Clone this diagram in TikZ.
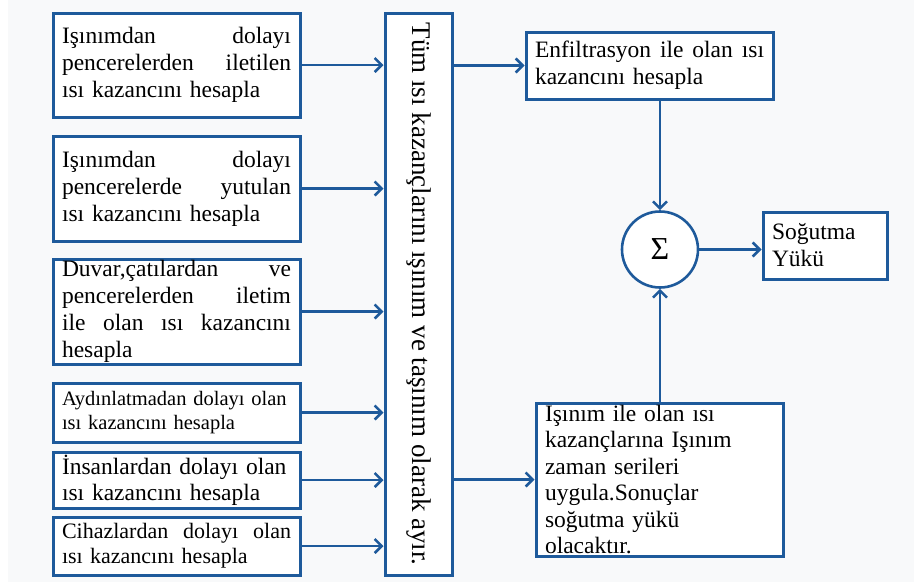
\documentclass[tikz,border=0pt]{standalone}
\usepackage{fontspec}
\setmainfont{Liberation Serif}
\usepackage{tikz}
\usetikzlibrary{arrows.meta}

\definecolor{kutumavi}{RGB}{30,90,155}
\definecolor{zemin}{RGB}{248,249,250}

\begin{document}
\begin{tikzpicture}[x=1pt, y=-1pt]

% Page size and the light background
\useasboundingbox (0,0) rectangle (914,587);
\fill[zemin] (8,0) rectangle (914,582);

% Define styles for boxes and arrows
\tikzstyle{kutu} = [draw=kutumavi, line width=3pt, fill=white, inner ysep=0pt, inner xsep=9pt,
                    text width=229pt, align=left, font=\fontsize{23.5}{27}\selectfont]
\tikzstyle{toplamci} = [circle, draw=kutumavi, line width=2.6pt, fill=white, minimum size=76pt,
                        inner sep=0pt, font=\fontsize{32}{32}\selectfont]
\tikzstyle{ok} = [draw=kutumavi, line width=2.5pt, -{Straight Barb[length=7pt,width=14pt]}]

% Heat gain sources on the left
\node[kutu, minimum height=104pt] (isinim1) at (176.5,65) {Işınımdan \hfill dolayı\\ pencerelerden \hfill iletilen\\ ısı kazancını hesapla};
\node[kutu, minimum height=105pt] (isinim2) at (176.5,188.5) {Işınımdan \hfill dolayı\\ pencerelerde \hfill yutulan\\ ısı kazancını hesapla};
\node[kutu, minimum height=105pt] (iletim) at (176.5,311.5) {Duvar,çatılardan \hfill ve\\ pencerelerden \hfill iletim\\ ile \hfill olan \hfill ısı \hfill kazancını\\ hesapla};
\node[kutu, minimum height=59pt, font=\fontsize{20.5}{24}\selectfont] (aydinlatma) at (176.5,412.5) {Aydınlatmadan dolayı olan\\ ısı kazancını hesapla};
\node[kutu, minimum height=56pt, font=\fontsize{23.5}{26}\selectfont] (insan) at (176.5,480) {İnsanlardan dolayı olan\\ ısı kazancını hesapla};
\node[kutu, minimum height=58pt, font=\fontsize{22}{25}\selectfont] (cihaz) at (176.5,546) {Cihazlardan \hfill dolayı \hfill olan\\ ısı kazancını hesapla};

% Tall separating box (text runs downwards)
\node[draw=kutumavi, line width=3pt, fill=white, inner sep=0pt, rotate=-90,
      minimum width=562pt, minimum height=67pt, font=\fontsize{27}{30}\selectfont] (ayir) at (418.5,294)
      {Tüm ısı kazançlarını ışınım ve taşınım olarak ayır.};

% Right hand side
\node[kutu, minimum height=67pt] (enf) at (649.5,65.5) {Enfiltrasyon \hfill ile \hfill olan \hfill ısı\\ kazancını hesapla};
\node[toplamci] (toplam) at (660,249.5) {Σ};
\node[kutu, text width=106pt, minimum height=67pt] (yuk) at (825,245.5) {Soğutma\\ Yükü};
\node[kutu, minimum height=153pt, font=\fontsize{23.5}{26.5}\selectfont] (zaman) at (659.5,479.5)
      {Işınım ile olan ısı\\ kazançlarına Işınım\\ zaman serileri\\ uygula.Sonuçlar\\ soğutma yükü\\ olacaktır.};

% Connectors
\foreach \k in {isinim1,isinim2,iletim,aydinlatma,insan,cihaz}
    \draw[ok] (\k.east) -- (\k.east -| ayir.south);
\draw[ok] (ayir.north |- enf.west) -- (enf.west);
\draw[ok] (ayir.north |- zaman.west) -- (zaman.west);
\draw[ok] (toplam |- enf.south) -- (toplam.north);
\draw[ok] (zaman.north -| toplam) -- (toplam.south);
\draw[ok] (toplam.east) -- (toplam.east -| yuk.west);

\end{tikzpicture}
\end{document}
